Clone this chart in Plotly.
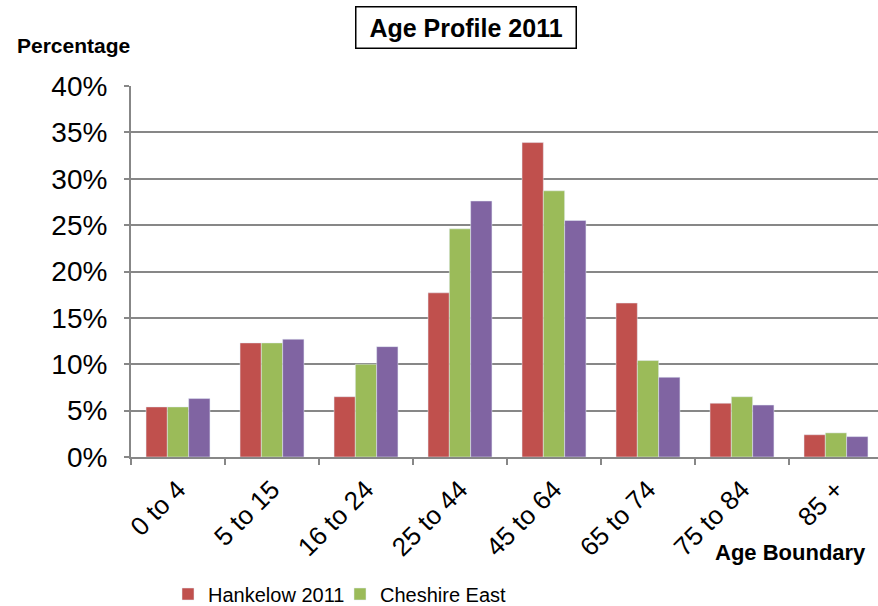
import plotly.graph_objects as go

# Age bands and share of population (%) in each band
age_bands = ["0 to 4", "5 to 15", "16 to 24", "25 to 44", "45 to 64", "65 to 74", "75 to 84", "85 +"]
hankelow = [5.4, 12.3, 6.5, 17.7, 33.9, 16.6, 5.8, 2.4]
cheshire_east = [5.4, 12.3, 10.0, 24.6, 28.7, 10.4, 6.5, 2.6]
england = [6.3, 12.7, 11.9, 27.6, 25.5, 8.6, 5.6, 2.2]

y_ticks = [0, 5, 10, 15, 20, 25, 30, 35, 40]
y_tick_text = [f"{v}%" for v in y_ticks]

FONT = "Liberation Sans, Arial, sans-serif"
GRID = "#878787"

W, H = 878, 606
L, T, B = 131, 86, 149
PW, PH = W - L, H - T - B


def px(x):
    return (x - L) / PW


def py(y):
    return (H - B - y) / PH


fig = go.Figure()
fig.add_trace(go.Bar(x=age_bands, y=hankelow, name="Hankelow 2011", marker_color="#C0504D"))
fig.add_trace(go.Bar(x=age_bands, y=cheshire_east, name="Cheshire East", marker_color="#9BBB59"))
fig.add_trace(go.Bar(x=age_bands, y=england, name="England", marker_color="#8064A2", showlegend=False))

fig.update_layout(
    width=W,
    height=H,
    margin=dict(l=L, r=0, t=T, b=B, autoexpand=False),
    paper_bgcolor="white",
    plot_bgcolor="white",
    barmode="group",
    bargap=0.32,
    bargroupgap=0,
    font=dict(family=FONT, color="black"),
    showlegend=True,
    legend=dict(
        orientation="h",
        x=px(168), xanchor="left",
        y=py(594), yanchor="middle",
        font=dict(size=20, family=FONT),
        entrywidth=127,
        entrywidthmode="pixels",
        bgcolor="rgba(0,0,0,0)",
    ),
    xaxis=dict(
        range=[-0.5, 7.447],
        automargin=False,
        showline=True,
        linecolor=GRID,
        linewidth=2,
        ticks="outside",
        tickson="boundaries",
        ticklen=6,
        tickwidth=2,
        tickcolor=GRID,
        tickangle=-45,
        tickfont=dict(size=26, family=FONT),
        ticklabelstandoff=5,
        showgrid=False,
    ),
    yaxis=dict(
        range=[0, 40],
        automargin=False,
        tickvals=y_ticks,
        ticktext=y_tick_text,
        showline=True,
        linecolor=GRID,
        linewidth=2,
        ticks="outside",
        ticklen=5,
        tickwidth=2,
        tickcolor=GRID,
        tickfont=dict(size=28, family=FONT),
        showgrid=True,
        gridcolor=GRID,
        gridwidth=2,
        zeroline=False,
        ticklabelstandoff=11,
    ),
)

# Boxed chart title
fig.add_annotation(
    text="<b>\u00a0Age Profile 2011\u00a0</b>",
    xref="paper", yref="paper",
    x=px(465.5), y=py(28),
    xanchor="center", yanchor="middle",
    showarrow=False,
    font=dict(size=25, family=FONT, color="black"),
    bordercolor="black", borderwidth=1.5, borderpad=6,
    bgcolor="white",
)

# Axis captions
fig.add_annotation(
    text="<b>Percentage</b>",
    xref="paper", yref="paper",
    x=px(15), y=py(46),
    xanchor="left", yanchor="middle",
    showarrow=False,
    font=dict(size=21, family=FONT, color="black"),
)
fig.add_annotation(
    text="<b>Age Boundary</b>",
    xref="paper", yref="paper",
    x=px(868), y=py(552),
    xanchor="right", yanchor="middle",
    showarrow=False,
    font=dict(size=22, family=FONT, color="black"),
)

fig.write_html("out.html")
